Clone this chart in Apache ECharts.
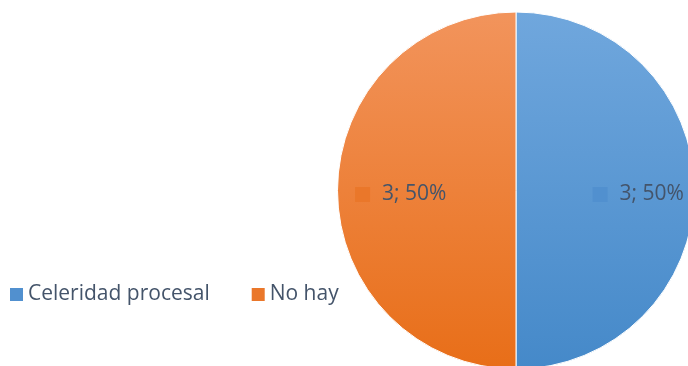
<!DOCTYPE html>
<html><head><meta charset="utf-8">
<script src="https://cdn.jsdelivr.net/npm/echarts@6/dist/echarts.min.js"></script>
<style>html,body{margin:0;padding:0;background:#fff}#c{width:688px;height:366px}</style>
</head><body><div id="c"></div>
<script>
const categories = ['Celeridad procesal', 'No hay'];
const values = [3, 3];
const percents = [50, 50];

const gradients = [
  ['#70a7dd', '#4589c9'],
  ['#f2945c', '#e86e18']
];
const labelOffsets = [[30, 4], [-23, 4]];
const keyColors = ['#5190cf', '#ea772a'];

const chart = echarts.init(document.getElementById('c'), null, {renderer: 'canvas'});
const font = '"Open Sans", "Noto Sans", sans-serif';
chart.setOption({
  animation: false,
  legend: {
    left: 5, top: 279,
    orient: 'horizontal',
    icon: 'rect',
    itemWidth: 13, itemHeight: 13, itemGap: 42,
    itemStyle: {borderWidth: 0},
    textStyle: {fontFamily: font, fontSize: 21, color: '#44546a'},
    data: categories.map((name, i) => ({name: name, itemStyle: {color: keyColors[i], borderWidth: 0}}))
  },
  series: [{
    type: 'pie',
    center: [516, 190.5],
    radius: 178.5,
    startAngle: 90,
    clockwise: true,
    silent: true,
    itemStyle: {borderColor: '#fff', borderWidth: 1},
    labelLine: {show: false},
    data: categories.map((name, i) => ({
      name: name,
      value: values[i],
      itemStyle: {
        color: new echarts.graphic.LinearGradient(0, 0, 0, 1, [
          {offset: 0, color: gradients[i][0]},
          {offset: 1, color: gradients[i][1]}
        ])
      },
      label: {
        show: true,
        position: 'inner',
        offset: labelOffsets[i],
        formatter: '{k|}{t|' + values[i] + '; ' + percents[i] + '%}',
        fontFamily: font,
        fontSize: 21,
        color: '#44546a',
        rich: {
          k: {width: 15, height: 15, backgroundColor: keyColors[i]},
          t: {fontFamily: font, fontSize: 21, color: '#44546a', padding: [0, 0, 0, 12]}
        }
      }
    }))
  }]
});
</script>
</body></html>
